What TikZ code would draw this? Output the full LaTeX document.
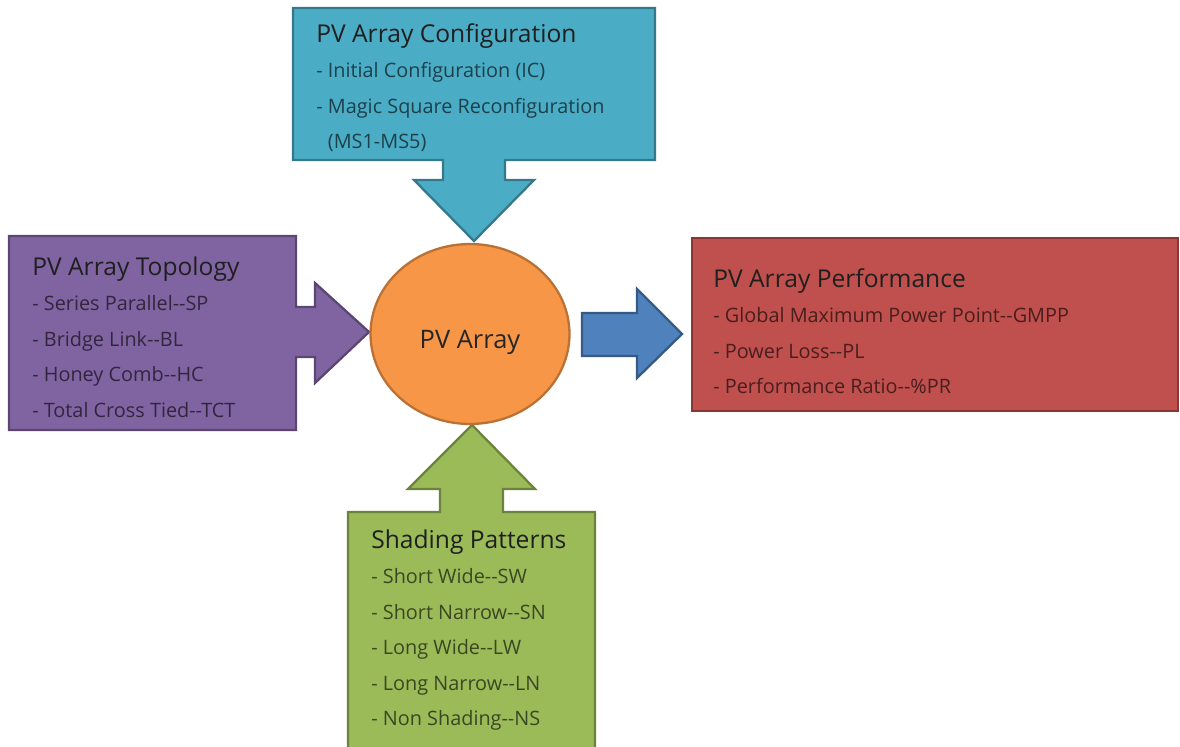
\documentclass[tikz,border=0pt]{standalone}
\usepackage{fontspec}
\setmainfont{Open Sans}
\usetikzlibrary{shapes.geometric, positioning}
\definecolor{aqu}{HTML}{4BACC6}
\definecolor{pur}{HTML}{8064A2}
\definecolor{rdd}{HTML}{C0504D}
\definecolor{grn}{HTML}{9BBB59}
\definecolor{org}{HTML}{F79646}
\definecolor{blu}{HTML}{4F81BD}
\tikzset{
  callout/.style = {draw=#1!70!black, fill=#1, line width=1.3pt, line join=miter},
  hub/.style     = {ellipse, draw=org!75!black, fill=org, line width=1.3pt,
                    minimum width=3.98cm, minimum height=3.6cm,
                    text height=16pt, text depth=0pt,
                    font=\fontsize{14.5}{16}\selectfont, text=black!85},
  ttl/.style     = {inner sep=0pt, anchor=base west, text height=10pt, text depth=3pt,
                    font=\fontsize{14}{16}\selectfont, text=black!88},
  itm/.style     = {inner sep=0pt, anchor=north west, text height=9pt, text depth=3pt,
                    font=\fontsize{11.3}{13}\selectfont, text=#1!38!black},
}

\begin{document}
\begin{tikzpicture}[x=0.02cm, y=-0.02cm, node distance=7.84pt]
  \useasboundingbox (0,0) rectangle (1180,747);

  % ── callout shapes
  \draw[callout=aqu] (293,8) -- (655,8) -- (655,160) -- (505,160) -- (505,180)
    -- (534,180) -- (474,241) -- (414,180) -- (443,180) -- (443,160) -- (293,160) -- cycle;
  \draw[callout=pur] (9,236) -- (296,236) -- (296,307) -- (315,307) -- (315,283)
    -- (369,332) -- (315,383) -- (315,357) -- (296,357) -- (296,430) -- (9,430) -- cycle;
  \draw[callout=grn] (348,512) -- (440,512) -- (440,489) -- (408,489) -- (472,425)
    -- (535,489) -- (503,489) -- (503,512) -- (595,512) -- (595,760) -- (348,760) -- cycle;
  \draw[callout=rdd] (692,238) rectangle (1178,411);

  % ── output arrow
  \draw[callout=blu] (582,313) -- (637,313) -- (637,289) -- (682,334) -- (637,378)
    -- (637,356) -- (582,356) -- cycle;

  % ── hub
  \node[hub] (pv) at (470,334) {PV Array};

  % ── configuration
  \node[ttl] (cfg) at (316,42) {PV Array Configuration};
  \node[below=of cfg.south west, itm=aqu]  (cfg1) {- Initial Configuration (IC)};
  \node[below=of cfg1.south west, itm=aqu] (cfg2) {- Magic Square Reconfiguration};
  \node[below=of cfg2.south west, itm=aqu] (cfg3) {\hphantom{- }(MS1-MS5)};

  % ── topology
  \node[ttl] (top) at (32,275) {PV Array Topology};
  \node[below=of top.south west, itm=pur]  (top1) {- Series Parallel-{}-SP};
  \node[below=of top1.south west, itm=pur] (top2) {- Bridge Link-{}-BL};
  \node[below=of top2.south west, itm=pur] (top3) {- Honey Comb-{}-HC};
  \node[below=of top3.south west, itm=pur] (top4) {- Total Cross Tied-{}-TCT};

  % ── performance
  \node[ttl] (prf) at (713,287) {PV Array Performance};
  \node[below=of prf.south west, itm=rdd]  (prf1) {- Global Maximum Power Point-{}-GMPP};
  \node[below=of prf1.south west, itm=rdd] (prf2) {- Power Loss-{}-PL};
  \node[below=of prf2.south west, itm=rdd] (prf3) {- Performance Ratio-{}-\%PR};

  % ── shading
  \node[ttl] (shd) at (371,548) {Shading Patterns};
  \node[below=of shd.south west, itm=grn]  (shd1) {- Short Wide-{}-SW};
  \node[below=of shd1.south west, itm=grn] (shd2) {- Short Narrow-{}-SN};
  \node[below=of shd2.south west, itm=grn] (shd3) {- Long Wide-{}-LW};
  \node[below=of shd3.south west, itm=grn] (shd4) {- Long Narrow-{}-LN};
  \node[below=of shd4.south west, itm=grn] (shd5) {- Non Shading-{}-NS};

\end{tikzpicture}
\end{document}
